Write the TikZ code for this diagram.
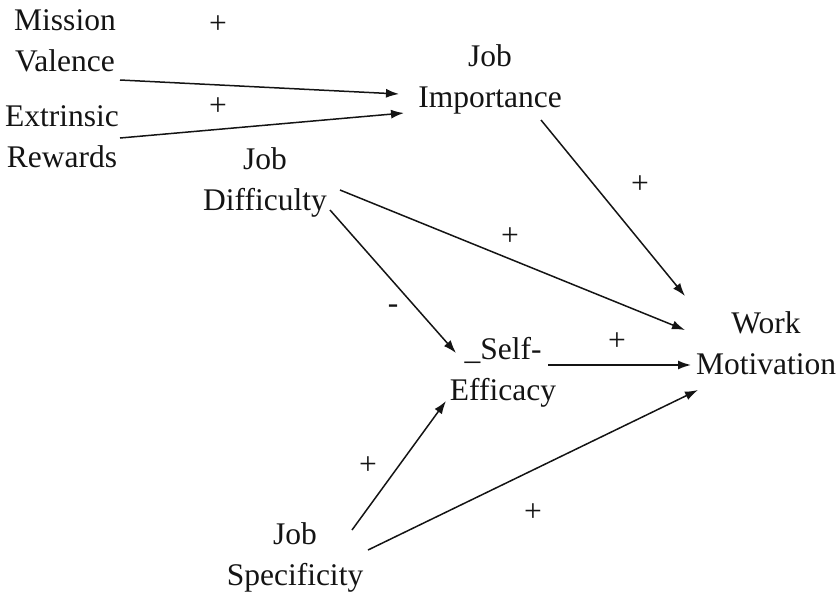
\documentclass[tikz,border=0pt]{standalone}
\usepackage{fontspec}
\setmainfont{Liberation Serif}
\usetikzlibrary{arrows.meta}
\definecolor{ink}{HTML}{141414}
\begin{document}
\begin{tikzpicture}[x=1pt,y=-1pt,
  concept/.style={align=center,inner sep=0pt,text=ink,font=\fontsize{31.5}{41}\selectfont},
  sign/.style={inner sep=0pt,text=ink,font=\fontsize{31.5}{41}\selectfont},
  link/.style={draw=ink,line width=1.5pt,-{Latex[length=13pt,width=9pt]}}]
\useasboundingbox (0,0) rectangle (839,595);
% concepts
\node[concept] (mv) at (65,41) {Mission\\Valence};
\node[concept] (er) at (62,137) {Extrinsic\\Rewards};
\node[concept] (ji) at (490,79) {Job\\Importance};
\node[concept] (jd) at (265,182) {Job\\Difficulty};
\node[concept] (wm) at (766,343) {Work\\Motivation};
\node[concept] (se) at (503,372) {\_Self-\\Efficacy};
\node[concept] (js) at (295,557) {Job\\Specificity};
% connector end points
\coordinate (mvA) at (120,80);   \coordinate (jiA) at (399,94);
\coordinate (erA) at (120,138);  \coordinate (jiB) at (404,113);
\coordinate (jiC) at (541,120);  \coordinate (wmA) at (685,296);
\coordinate (jdA) at (340,190);  \coordinate (wmB) at (685,330);
\coordinate (jdB) at (330,210);  \coordinate (seA) at (456,353);
\coordinate (seB) at (548,365);  \coordinate (wmC) at (691,365);
\coordinate (jsA) at (352,530);  \coordinate (seC) at (446,401);
\coordinate (jsB) at (368,550);  \coordinate (wmD) at (698,390);
% connectors
\draw[link] (mvA) -- (jiA);
\draw[link] (erA) -- (jiB);
\draw[link] (jiC) -- (wmA);
\draw[link] (jdA) -- (wmB);
\draw[link] (jdB) -- (seA);
\draw[link] (seB) -- (wmC);
\draw[link] (jsA) -- (seC);
\draw[link] (jsB) -- (wmD);
% signs
\node[sign] (s1) at (218,25) {+};
\node[sign] (s2) at (218,107) {+};
\node[sign] (s3) at (640,185) {+};
\node[sign] (s4) at (510,237) {+};
\node[sign] (s5) at (393,309) {-};
\node[sign] (s6) at (617,342) {+};
\node[sign] (s7) at (368,466) {+};
\node[sign] (s8) at (533,513) {+};
\end{tikzpicture}
\end{document}
